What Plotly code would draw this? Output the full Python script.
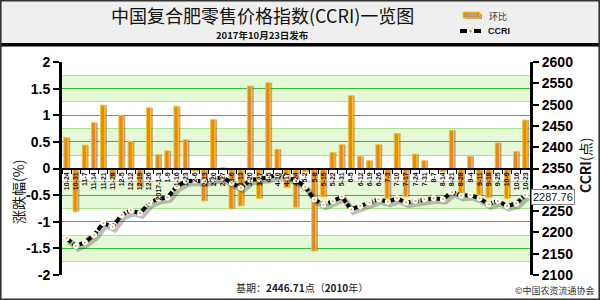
import plotly.graph_objects as go

dates = ["10-24","10-31","11-7","11-14","11-21","11-28","12-5","12-12","12-19","12-26",
         "2017-1-3","1-9","1-16","1-23","2-6","2-13","2-20","2-27","3-6","3-13",
         "3-20","3-27","4-5","4-10","4-17","4-24","5-2","5-8","5-15","5-22",
         "5-31","6-5","6-12","6-19","6-26","7-3","7-10","7-17","7-24","7-31",
         "8-7","8-14","8-21","8-28","9-4","9-11","9-18","9-25","10-9","10-16","10-23"]

change = [0.58,-0.81,0.44,0.86,1.19,-0.16,1.00,0.51,-0.35,1.14,
          0.26,0.33,1.17,0.54,-0.05,-0.61,0.92,0.02,-0.76,-0.70,
          1.55,-0.56,1.61,0.36,-0.36,-0.73,-0.06,-1.55,-0.53,0.30,
          0.45,1.37,0.23,0.15,0.45,-0.56,0.66,-0.53,0.27,0.15,
          0.00,-0.06,0.72,-0.47,0.23,-0.50,-0.55,0.48,-0.56,0.32,0.91]

ccri = [2186,2168,2177,2194,2222,2213,2241,2252,2245,2269,
        2279,2282,2308,2320,2322,2319,2326,2329,2316,2305,
        2323,2326,2329,2336,2329,2322,2307,2277,2265,2273,
        2284,2254,2262,2270,2278,2272,2280,2270,2274,2278,
        2280,2278,2295,2286,2288,2280,2266,2274,2262,2268,2287.76]

left_ticks = [2,1.5,1,0.5,0,-0.5,-1,-1.5,-2]
left_text = ["2","1.5","1","0.5","0","-0.5","-1","-1.5","-2"]
right_ticks = [2600,2550,2500,2450,2400,2350,2300,2250,2200,2150,2100]

idx = list(range(len(dates)))

# plot-area pixel geometry
L, R, T, B = 62, 530, 62, 275
def px(x): return (x - L) / (R - L)
def py(y): return (B - y) / (B - T)

fig = go.Figure()

# bar shadows
fig.add_trace(go.Bar(x=idx, y=change, width=0.5, offset=-0.1,
                     marker=dict(color="rgba(110,110,110,0.55)", line=dict(width=0)),
                     yaxis="y", hoverinfo="skip"))
# bars
fig.add_trace(go.Bar(x=idx, y=change, width=0.46, offset=-0.3,
                     marker=dict(color="#EE8616", line=dict(color="#FFC814", width=1)),
                     yaxis="y", name="环比"))
# line shadow
fig.add_trace(go.Scatter(x=[i + 0.25 for i in idx], y=[v - 6 for v in ccri], mode="lines",
                         line=dict(color="rgba(0,0,0,0.25)", width=6),
                         yaxis="y2", hoverinfo="skip"))
# CCRI line
fig.add_trace(go.Scatter(x=idx, y=ccri, mode="lines+markers",
                         line=dict(color="black", width=4, dash="6px,2px"),
                         marker=dict(size=4, color="#F5A000", line=dict(color="white", width=2)),
                         yaxis="y2", name="CCRI"))

shapes = []
# header background and separator
shapes.append(dict(type="rect", xref="paper", yref="paper", x0=px(0), x1=px(600), y0=py(44), y1=py(0),
                   fillcolor="#EFEFEF", line=dict(width=0), layer="below"))
shapes.append(dict(type="rect", xref="paper", yref="paper", x0=px(0), x1=px(600), y0=py(46.5), y1=py(43),
                   fillcolor="black", line=dict(width=0)))
# outer frame
shapes.append(dict(type="rect", xref="paper", yref="paper", x0=px(0.8), x1=px(599.2), y0=py(299.2), y1=py(0.8),
                   fillcolor="rgba(0,0,0,0)", line=dict(color="#333333", width=1.6)))
# green bands
for lo, hi in [(1.25, 1.75), (0.25, 0.75), (-0.75, -0.25), (-1.75, -1.25)]:
    shapes.append(dict(type="rect", xref="x domain", yref="y", x0=0, x1=1, y0=lo, y1=hi,
                       fillcolor="#E6F9D6", line=dict(width=0), layer="below"))
# legend icons
shapes.append(dict(type="rect", xref="paper", yref="paper", x0=px(465), x1=px(482), y0=py(19), y1=py(14),
                   fillcolor="#9A9A9A", line=dict(width=0)))
shapes.append(dict(type="rect", xref="paper", yref="paper", x0=px(463), x1=px(480), y0=py(18), y1=py(12),
                   fillcolor="#EE8616", line=dict(color="#FFC814", width=1)))
shapes.append(dict(type="rect", xref="paper", yref="paper", x0=px(466), x1=px(477), y0=py(16.5), y1=py(13.5),
                   fillcolor="#A0A0A0", line=dict(width=0)))
shapes.append(dict(type="line", xref="paper", yref="paper", x0=px(460), x1=px(481), y0=py(31), y1=py(31),
                   line=dict(color="black", width=4)))
shapes.append(dict(type="line", xref="paper", yref="paper", x0=px(467), x1=px(474), y0=py(31), y1=py(31),
                   line=dict(color="white", width=4)))
shapes.append(dict(type="circle", xref="paper", yref="paper", x0=px(469), x1=px(472), y0=py(32.5), y1=py(29.5),
                   fillcolor="#F5A000", line=dict(width=0)))

cjk = "Noto Sans CJK SC"
ann = []
ann.append(dict(text="中国复合肥零售价格指数(CCRI)一览图", xref="paper", yref="paper", x=px(262), y=py(15),
                showarrow=False, font=dict(family=cjk, size=18, color="#111"), xanchor="center", yanchor="middle"))
ann.append(dict(text="<b>2017年10月23日发布</b>", xref="paper", yref="paper", x=px(262), y=py(34.5),
                showarrow=False, font=dict(family=cjk, size=9.5, color="#111"), xanchor="center", yanchor="middle"))
ann.append(dict(text="环比", xref="paper", yref="paper", x=px(487), y=py(16),
                showarrow=False, font=dict(family=cjk, size=9, color="#333"), xanchor="left", yanchor="middle"))
ann.append(dict(text="<b>CCRI</b>", xref="paper", yref="paper", x=px(486), y=py(31),
                showarrow=False, font=dict(family="Liberation Sans", size=9, color="#111"), xanchor="left", yanchor="middle"))
ann.append(dict(text="涨跌幅(%)", xref="paper", yref="paper", x=px(18), y=py(192), textangle=-90,
                showarrow=False, font=dict(family=cjk, size=14, color="#111"), xanchor="center", yanchor="middle"))
ann.append(dict(text="<b>CCRI</b>(点)", xref="paper", yref="paper", x=px(585), y=py(166), textangle=-90,
                showarrow=False, font=dict(family=cjk, size=14, color="#111"), xanchor="center", yanchor="middle"))
ann.append(dict(text="基期：<b>2446.71</b>点（<b>2010</b>年）", xref="paper", yref="paper", x=px(302), y=py(287),
                showarrow=False, font=dict(family=cjk, size=10, color="#222"), xanchor="center", yanchor="middle"))
ann.append(dict(text="©中国农资流通协会", xref="paper", yref="paper", x=px(597), y=py(290),
                showarrow=False, font=dict(family=cjk, size=9, color="#333"), xanchor="right", yanchor="middle"))
ann.append(dict(text=f"{ccri[-1]:.2f}", xref="paper", yref="paper", x=px(553), y=py(197),
                showarrow=False, font=dict(family="Liberation Sans", size=11, color="#111"),
                bgcolor="white", bordercolor="#888", borderwidth=1, borderpad=1,
                xanchor="center", yanchor="middle"))

fig.update_layout(
    width=600, height=300,
    margin=dict(l=L, r=600 - R, t=T, b=300 - B),
    paper_bgcolor="white", plot_bgcolor="white",
    showlegend=False, barmode="overlay",
    shapes=shapes, annotations=ann,
    xaxis=dict(range=[-0.5, len(dates) - 0.5], tickmode="array", tickvals=idx, ticktext=dates,
               tickangle=-90, ticks="", showgrid=False, zeroline=False,
               anchor="free", position=0.5, showline=True, linecolor="black", linewidth=2,
               tickfont=dict(family="Liberation Sans", size=7, color="#111", weight="bold"),
               minor=dict(tickmode="linear", tick0=0.5, dtick=1, ticks="outside", ticklen=4,
                          tickwidth=1, tickcolor="black", showgrid=False)),
    yaxis=dict(range=[-2, 2], tickmode="array", tickvals=left_ticks, ticktext=left_text,
               showgrid=True, gridcolor="#33BB33", gridwidth=1, zeroline=False,
               showline=True, linecolor="black", linewidth=3,
               ticks="outside", ticklen=6, tickwidth=2, tickcolor="black",
               tickfont=dict(family="Liberation Sans", size=14, color="black", weight="bold"),
               minor=dict(tickmode="linear", tick0=0.25, dtick=0.5, showgrid=True,
                          gridcolor="#A6E48E", gridwidth=1, ticks="")),
    yaxis2=dict(range=[2100, 2600], overlaying="y", side="right", anchor="x",
                tickmode="array", tickvals=right_ticks, showgrid=False, zeroline=False,
                showline=True, linecolor="black", linewidth=3,
                ticks="outside", ticklen=6, tickwidth=2, tickcolor="black",
                tickfont=dict(family="Liberation Sans", size=14, color="black", weight="bold")),
)

fig.write_html("out.html")
